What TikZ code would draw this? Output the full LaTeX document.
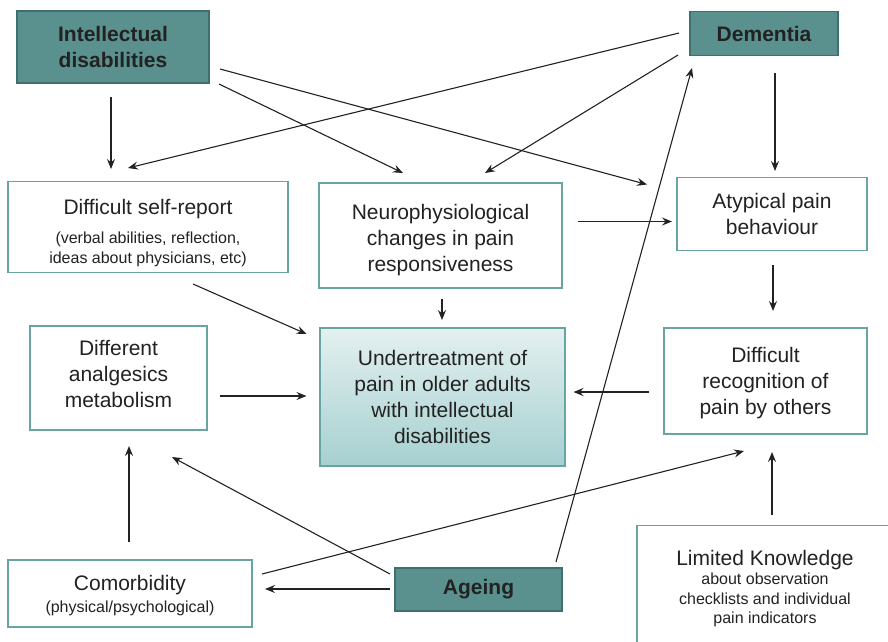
\documentclass[tikz,border=0pt]{standalone}
\usepackage{fontspec}
\setmainfont{Liberation Sans}
\usetikzlibrary{arrows.meta}
\definecolor{tealfill}{RGB}{90,145,142}
\definecolor{tealdark}{RGB}{62,112,110}
\definecolor{tealline}{RGB}{104,164,162}
\definecolor{gradtop}{RGB}{228,240,240}
\definecolor{gradbot}{RGB}{166,208,208}
\definecolor{ink}{RGB}{34,34,34}
\newcommand{\mainsz}{\fontsize{21}{26}\selectfont}
\newcommand{\smsz}{\fontsize{16}{20}\selectfont}
\tikzset{
  whitebox/.style={draw=tealline, line width=1.3pt, fill=white, inner sep=0pt, align=center, font=\mainsz, text=ink},
  darkbox/.style={draw=tealdark, line width=1.3pt, fill=tealfill, inner sep=0pt, align=center, font=\mainsz\bfseries, text=ink},
  gradbox/.style={draw=tealline, line width=1.3pt, top color=gradtop, bottom color=gradbot, inner sep=0pt, align=center, font=\mainsz, text=ink},
  conn/.style={draw=ink, line width=1.1pt, -{Stealth[length=10pt,width=8pt,inset=3.5pt]}}
}
\begin{document}
\begin{tikzpicture}[x=1pt,y=-1pt]
\useasboundingbox (0,0) rectangle (888,641);
% nodes
\node[darkbox, minimum width=192pt, minimum height=72pt] (id) at (113,47) {Intellectual\\disabilities};
\node[darkbox, minimum width=148pt, minimum height=44pt] (dem) at (764,33.5) {Dementia};
\node[whitebox, minimum width=280pt, minimum height=91pt] (self) at (148,227) {\rule{0pt}{27.5pt}Difficult self-report\\[3pt]\smsz (verbal abilities, reflection,\\[-6pt]\smsz ideas about physicians, etc)};
\node[whitebox, minimum width=243pt, minimum height=105pt] (neuro) at (440.5,235.5) {\rule{0pt}{23.5pt}Neurophysiological\\changes in pain\\responsiveness};
\node[whitebox, minimum width=190pt, minimum height=73pt] (atyp) at (772,214) {Atypical pain\\behaviour};
\node[whitebox, minimum width=177pt, minimum height=104pt] (analg) at (118.5,378) {Different\\analgesics\\metabolism\rule[-8pt]{0pt}{8pt}};
\node[gradbox, minimum width=245pt, minimum height=138pt] (under) at (442.5,397) {Undertreatment of\\pain in older adults\\with intellectual\\disabilities};
\node[whitebox, minimum width=203pt, minimum height=106pt] (recog) at (765.5,381) {\rule{0pt}{19pt}Difficult\\recognition of\\pain by others};
\node[whitebox, minimum width=244pt, minimum height=67pt] (comor) at (130,593.5) {\rule{0pt}{18.5pt}Comorbidity\\[-4pt]\smsz (physical/psychological)};
\node[darkbox, minimum width=167pt, minimum height=43pt] (age) at (478.5,589.5) {Ageing};
\node[whitebox, minimum width=256pt, minimum height=126pt] (lim) at (765,588.5) {Limited Knowledge\\[-7pt]\smsz about observation\\[-6pt]\smsz checklists and individual\\[-7pt]\smsz pain indicators};
% connectors
\draw[conn] ([shift={(-2,50)}]id.center) -- ([shift={(-37,-58)}]self.center);
\draw[conn] ([shift={(-85,-0.5)}]dem.center) -- ([shift={(-20,-59)}]self.center);
\draw[conn] ([shift={(106,37)}]id.center) -- ([shift={(-37.5,-62.5)}]neuro.center);
\draw[conn] ([shift={(107,22)}]id.center) -- ([shift={(-125,-29.5)}]atyp.center);
\draw[conn] ([shift={(-86,21.5)}]dem.center) -- ([shift={(44.5,-62.5)}]neuro.center);
\draw[conn] ([shift={(11,39.5)}]dem.center) -- ([shift={(3,-43)}]atyp.center);
\draw[conn] ([shift={(137.5,-14)}]neuro.center) -- ([shift={(-100,7.5)}]atyp.center);
\draw[conn] ([shift={(1.5,63.5)}]neuro.center) -- ([shift={(-0.5,-77)}]under.center);
\draw[conn] ([shift={(45,57)}]self.center) -- ([shift={(-136,-63)}]under.center);
\draw[conn] ([shift={(101.5,18)}]analg.center) -- ([shift={(-136,-1)}]under.center);
\draw[conn] ([shift={(-116.5,11)}]recog.center) -- ([shift={(131,-5)}]under.center);
\draw[conn] ([shift={(1,51)}]atyp.center) -- ([shift={(7.5,-70)}]recog.center);
\draw[conn] ([shift={(77.5,-27.5)}]age.center) -- ([shift={(-72,34.5)}]dem.center);
\draw[conn] ([shift={(-88.5,-15.5)}]age.center) -- ([shift={(53.5,79)}]analg.center);
\draw[conn] ([shift={(-88.5,-0.5)}]age.center) -- ([shift={(135,-4.5)}]comor.center);
\draw[conn] ([shift={(132,-19.5)}]comor.center) -- ([shift={(-21.5,70)}]recog.center);
\draw[conn] ([shift={(-1,-51.5)}]comor.center) -- ([shift={(10.5,68)}]analg.center);
\draw[conn] ([shift={(7,-73.5)}]lim.center) -- ([shift={(6.5,71)}]recog.center);
\end{tikzpicture}
\end{document}
